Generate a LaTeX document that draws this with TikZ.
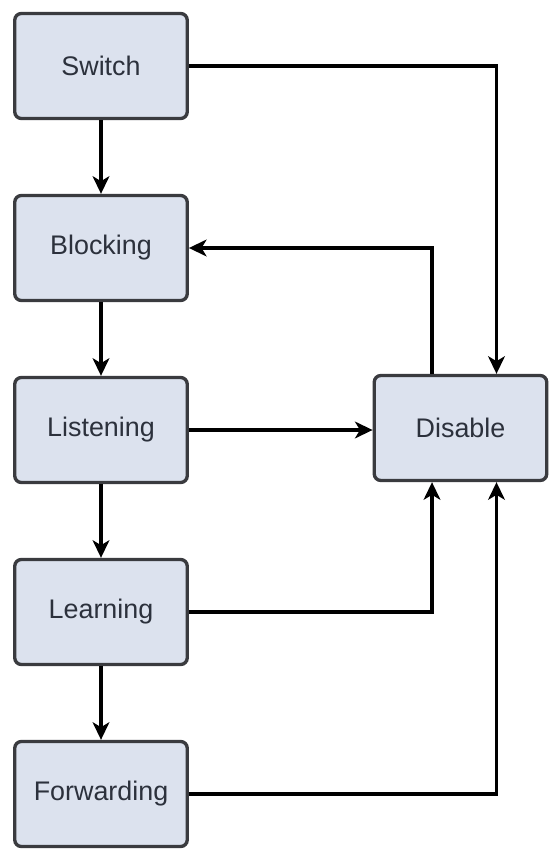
\documentclass[tikz,border=0pt]{standalone}
\usepackage{fontspec}
\setmainfont{Liberation Sans}
\usetikzlibrary{arrows.meta}
\definecolor{boxfill}{HTML}{DCE2EE}
\definecolor{boxline}{HTML}{3A3B3F}
\definecolor{boxtext}{HTML}{2C313C}
\begin{document}
\begin{tikzpicture}[x=0.02cm, y=-0.02cm,
        stato/.style={rectangle, rounded corners=0.13cm, draw=boxline, line width=1.9pt, fill=boxfill,
            minimum width=3.45cm, minimum height=2.1cm, text=boxtext, font=\fontsize{15.3}{18}\selectfont},
        freccia/.style={line width=1.9pt, -{Stealth[length=10pt, width=9.5pt, inset=2.8pt]}}]
        \useasboundingbox (0,0) rectangle (554,851);
        % STATI A SINISTRA
        \node[stato] (sw) at (101,66) {Switch};
        \node[stato] (bl) at (101,248) {Blocking};
        \node[stato] (li) at (101,430) {Listening};
        \node[stato] (le) at (101,612) {Learning};
        \node[stato] (fw) at (101,794) {Forwarding};
        % STATO DISABLE
        \node[stato] (dis) at (460.5,428) {Disable};

        \draw[freccia] (sw) -- (bl);
        \draw[freccia] (bl) -- (li);
        \draw[freccia] (li) -- (le);
        \draw[freccia] (le) -- (fw);

        % COLLEGAMENTI CON DISABLE
        \draw[freccia] (sw.east) -| ([xshift=0.72cm]dis.north);
        \draw[freccia] ([xshift=-0.57cm]dis.north) |- (bl.east);
        \draw[freccia] (li.east) -- (li.east -| dis.west);
        \draw[freccia] (le.east) -| ([xshift=-0.57cm]dis.south);
        \draw[freccia] (fw.east) -| ([xshift=0.72cm]dis.south);
    \end{tikzpicture}
\end{document}
